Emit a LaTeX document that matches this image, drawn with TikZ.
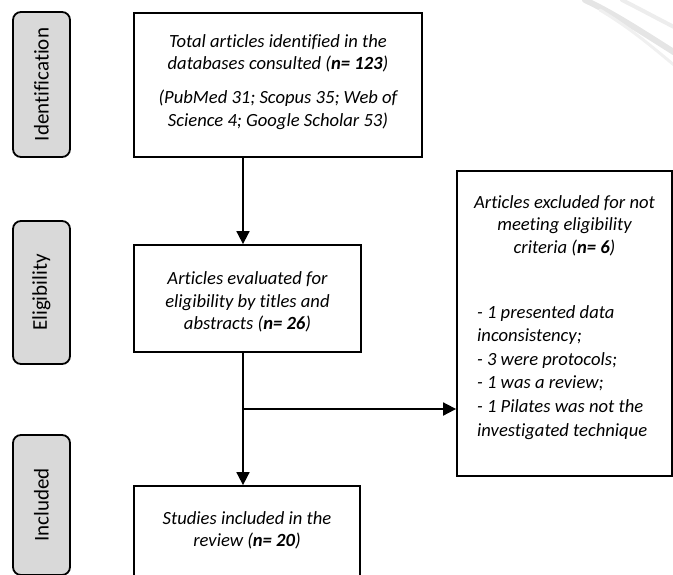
\documentclass[tikz,border=0pt]{standalone}
\usepackage{fontspec}
\setmainfont[Ligatures={NoCommon}]{Carlito}
\usetikzlibrary{arrows.meta}
\definecolor{tabgray}{HTML}{D9D9D9}
\begin{document}
\begin{tikzpicture}[x=1pt,y=-1pt,
  box/.style={draw, line width=1.8pt, rectangle, inner sep=0pt, fill=white},
  tab/.style={draw, line width=1.8pt, rounded corners=8pt, fill=tabgray, inner sep=0pt,
    rotate=90, minimum height=57pt, font=\fontsize{21}{24}\selectfont},
  txt/.style={font=\fontsize{18.6}{22.8}\selectfont\itshape, inner sep=0pt},
  arr/.style={line width=1.8pt, -{Triangle[length=13pt,width=13pt]}},
  wm/.style={line cap=round, draw=black!10}
]
\useasboundingbox (0,0) rectangle (673,574);
\clip (0,0) rectangle (673,574);
% faint background swoosh
\draw[wm, line width=6pt] (585,0) .. controls (615,14) and (645,34) .. (680,56);
\draw[wm, line width=4pt, draw=black!7] (622,0) .. controls (642,10) and (660,20) .. (680,30);
\draw[wm, line width=3pt, draw=black!6] (600,10) .. controls (630,28) and (650,45) .. (680,70);

% phase tabs
\node[tab, minimum width=145pt] (tid) at (41.5,84.5) {Identification};
\node[tab, minimum width=143pt] (tel) at (41.5,292.5) {Eligibility};
\node[tab, minimum width=140pt] (tin) at (41.5,505) {Included};

% boxes
\node[box, minimum width=288pt, minimum height=144pt] (b1) at (278,85) {};
\node[box, minimum width=227pt, minimum height=107pt] (b2) at (247.5,298.5) {};
\node[box, minimum width=226pt, minimum height=130pt] (b3) at (247,551) {};
\node[box, minimum width=215pt, minimum height=305pt] (b4) at (564.5,323.5) {};

% texts
\node[txt, align=center, anchor=north] (t1) at (278,34) {Total articles identified in the\\
  databases consulted (\textbf{n= 123})\\[11pt]
  (PubMed 31; Scopus 35; Web of\\ Science 4; Google Scholar 53)};
\node[txt, align=center] (t2) at (247.5,302) {Articles evaluated for\\
  eligibility by titles and\\ abstracts (\textbf{n= 26})};
\node[txt, align=center, anchor=north] (t3) at (247,511) {Studies included in the\\ review (\textbf{n= 20})};
\node[txt, align=center, anchor=north] (t4a) at (564.5,195) {Articles excluded for not\\
  meeting eligibility\\ criteria (\textbf{n= 6})};
\node[txt, align=left, anchor=north west, font=\fontsize{18.6}{23.6}\selectfont\itshape] (t4b) at (477,305) {- 1 presented data\\
  inconsistency;\\ - 3 were protocols;\\ - 1 was a review;\\
  - 1 Pilates was not the\\ investigated technique};

% connectors
\coordinate (ax) at (243,0);
\coordinate (j) at (243,409);
\draw[arr] (b1.south -| ax) -- (b2.north -| ax);
\draw[arr] (b2.south -| ax) -- (b3.north -| ax);
\draw[arr] (j) -- (j -| b4.west);
\end{tikzpicture}
\end{document}
